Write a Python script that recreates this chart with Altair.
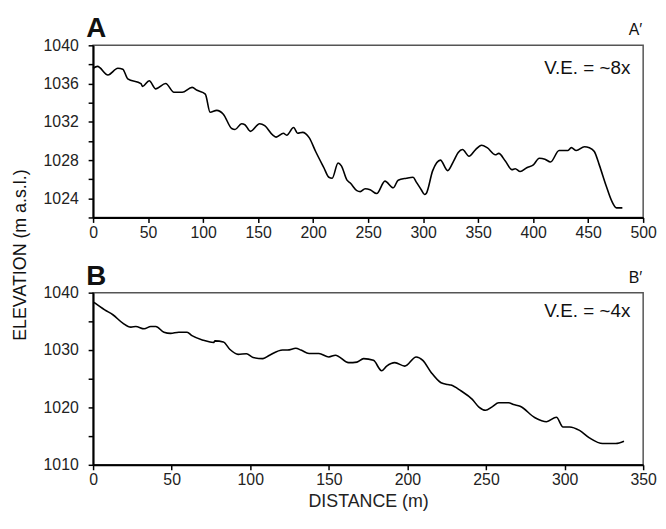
import altair as alt
import pandas as pd

FONT = "Liberation Sans"

# Profile A-A'
dist_a = [0, 4, 13.5, 22.5, 27, 31.5, 43.5, 45, 51, 57, 66, 73.5, 81, 90, 94.5, 102, 106.4, 112.4, 118.4,
          126, 129, 135, 138, 143, 151.4, 156, 163.4, 166.4, 173, 176, 182.3, 185.9, 190.4, 196.4, 202.3,
          209.8, 214.3, 217.3, 222.7, 225.7, 230.8, 233.8, 239.8, 242.8, 247.3, 251.8, 257.8, 265.3, 272.8,
          277.3, 284.8, 290.8, 293.8, 298.3, 301.3, 302.8, 308.7, 315.7, 322.3, 327.7, 331.9, 335.8, 341.7,
          347.7, 353.1, 358.2, 365.7, 368.7, 374.7, 380.7, 383.7, 388.2, 394.2, 400.2, 405.6, 410.7, 415.8,
          423.6, 431.7, 434.7, 439.2, 446.6, 451.1, 455.6, 460.1, 466.1, 471.5, 475.7, 481.1]
elev_a = [1037.6, 1037.8, 1036.9, 1037.6, 1037.5, 1036.5, 1036.0, 1035.7, 1036.3, 1035.45, 1036.0, 1035.1,
          1035.1, 1035.6, 1035.3, 1034.9, 1033.0, 1033.2, 1032.8, 1031.3, 1031.2, 1031.8, 1031.7, 1031.0,
          1031.8, 1031.6, 1030.6, 1030.4, 1030.8, 1030.6, 1031.4, 1030.8, 1030.9, 1030.35, 1028.9, 1027.2,
          1026.2, 1026.1, 1027.7, 1027.4, 1025.9, 1025.6, 1024.8, 1024.7, 1025.0, 1024.9, 1024.5, 1025.8,
          1025.1, 1025.9, 1026.1, 1026.2, 1025.7, 1024.9, 1024.4, 1024.5, 1026.9, 1028.0, 1026.9, 1027.9,
          1028.8, 1029.1, 1028.4, 1029.1, 1029.55, 1029.3, 1028.55, 1028.7, 1027.9, 1027.0, 1027.1, 1026.8,
          1027.2, 1027.5, 1028.2, 1028.1, 1027.8, 1029.0, 1029.0, 1029.3, 1029.0, 1029.4, 1029.3, 1028.9,
          1027.5, 1025.4, 1023.7, 1023.0, 1023.0]

# Profile B-B'
dist_b = [0.6, 7.4, 12.6, 18.9, 24.1, 27.2, 32.5, 36.7, 39.9, 45.1, 49.3, 54.5, 59.8, 62.9, 70.3, 76.6, 77.6,
          82.9, 87.1, 92.3, 97.6, 101.8, 108.1, 112.3, 120.6, 123.7, 129.0, 132.2, 137.4, 143.7, 150, 154.2,
          162.6, 167.9, 172.1, 178.4, 183.6, 186.8, 192, 198.3, 205.6, 209.8, 215.1, 221.4, 225.6, 227.7,
          234.0, 241.3, 245.5, 249.7, 253.9, 258.1, 264.4, 267.5, 271.7, 281.2, 288.5, 294.8, 299, 303.2,
          309.5, 315.8, 324.2, 332.6, 337.8]
elev_b = [1038.3, 1037.0, 1036.15, 1034.7, 1034.0, 1034.1, 1033.7, 1034.1, 1034.1, 1033.1, 1032.9, 1033.1,
          1033.1, 1032.5, 1031.7, 1031.3, 1031.6, 1031.4, 1030.1, 1029.25, 1029.35, 1028.7, 1028.5, 1029.1,
          1030.0, 1030.0, 1030.3, 1030.0, 1029.4, 1029.4, 1028.8, 1029.1, 1027.8, 1027.9, 1028.5, 1028.2,
          1026.4, 1027.2, 1027.8, 1027.2, 1028.8, 1028.2, 1026.1, 1024.3, 1024.0, 1023.9, 1022.9, 1021.4,
          1020.05, 1019.5, 1020.1, 1020.8, 1020.8, 1020.5, 1020.2, 1018.2, 1017.5, 1018.3, 1016.6, 1016.6,
          1016.0, 1014.7, 1013.7, 1013.7, 1014.1]

x_ticks_a = list(range(0, 501, 50))
x_ticks_b = list(range(0, 351, 50))
y_ticks_a = list(range(1022, 1041, 2))
y_ticks_b = list(range(1010, 1041, 5))

W, H = 556, 174


def text_layer(txt, x, y, size, align="left", baseline="alphabetic", bold=False, angle=0):
    kw = dict(font=FONT, fontSize=size, align=align, baseline=baseline, color="#111")
    if bold:
        kw["fontWeight"] = "bold"
    if angle:
        kw["angle"] = angle
    return alt.Chart(pd.DataFrame({"t": [txt]})).mark_text(**kw).encode(
        text="t:N", x=alt.value(x), y=alt.value(y))


def panel(dist, elev, xmax, xticks, ylo, yhi, yticks, ylabstep, letter, prime, ve, ve_y, xtitle, extra):
    df = pd.DataFrame({"d": dist, "e": elev})
    if xtitle:
        xaxis = alt.Axis(values=xticks, title=xtitle, grid=False, format="d", labelFlush=False)
    else:
        xaxis = alt.Axis(values=xticks, title=None, grid=False, format="d", labelFlush=False)
    line = alt.Chart(df).mark_line(color="black", strokeWidth=1.6, interpolate="monotone").encode(
        x=alt.X("d:Q", scale=alt.Scale(domain=[0, xmax], nice=False, zero=False), axis=xaxis),
        y=alt.Y("e:Q", scale=alt.Scale(domain=[ylo, yhi], nice=False, zero=False),
                axis=alt.Axis(values=yticks, title=None, grid=False, format="d", labelFlush=False,
                              labelExpr=f"datum.value % {ylabstep} == 0 ? datum.label : ''")),
    )
    layers = [line,
              text_layer(letter, -7, -8, 28, bold=True),
              text_layer(prime, W - 1, -10, 16, align="right"),
              text_layer(ve, 543, ve_y, 19, align="right")] + extra
    return alt.layer(*layers).properties(width=W, height=H)


ytitle = text_layer("ELEVATION (m a.s.l.)", -82, 212, 18, align="center", baseline="top", angle=270)

top = panel(dist_a, elev_a, 500, x_ticks_a, 1022, 1040, y_ticks_a, 4, "A", "A\u2032", "V.E. = ~8x", 29, None, [ytitle])
bottom = panel(dist_b, elev_b, 350, x_ticks_b, 1010, 1040, y_ticks_b, 10, "B", "B\u2032", "V.E. = ~4x", 25,
               "DISTANCE (m)", [])

chart = alt.vconcat(top, bottom, spacing=76, bounds="flush").properties(
    padding={"left": 3, "top": 4, "right": 0, "bottom": 0}
).configure_view(stroke="#555", strokeWidth=1.5).configure_axis(
    domainColor="black", domainWidth=2, tickColor="black", tickWidth=1.5, tickSize=5,
    labelFont=FONT, labelFontSize=16, labelColor="#222", labelPadding=2,
    titleFont=FONT, titleFontSize=18, titleFontWeight="normal", titleColor="#222", titlePadding=5,
).configure_axisY(labelPadding=10)

chart.save("out.html", embed_options={"renderer": "svg", "actions": False})
